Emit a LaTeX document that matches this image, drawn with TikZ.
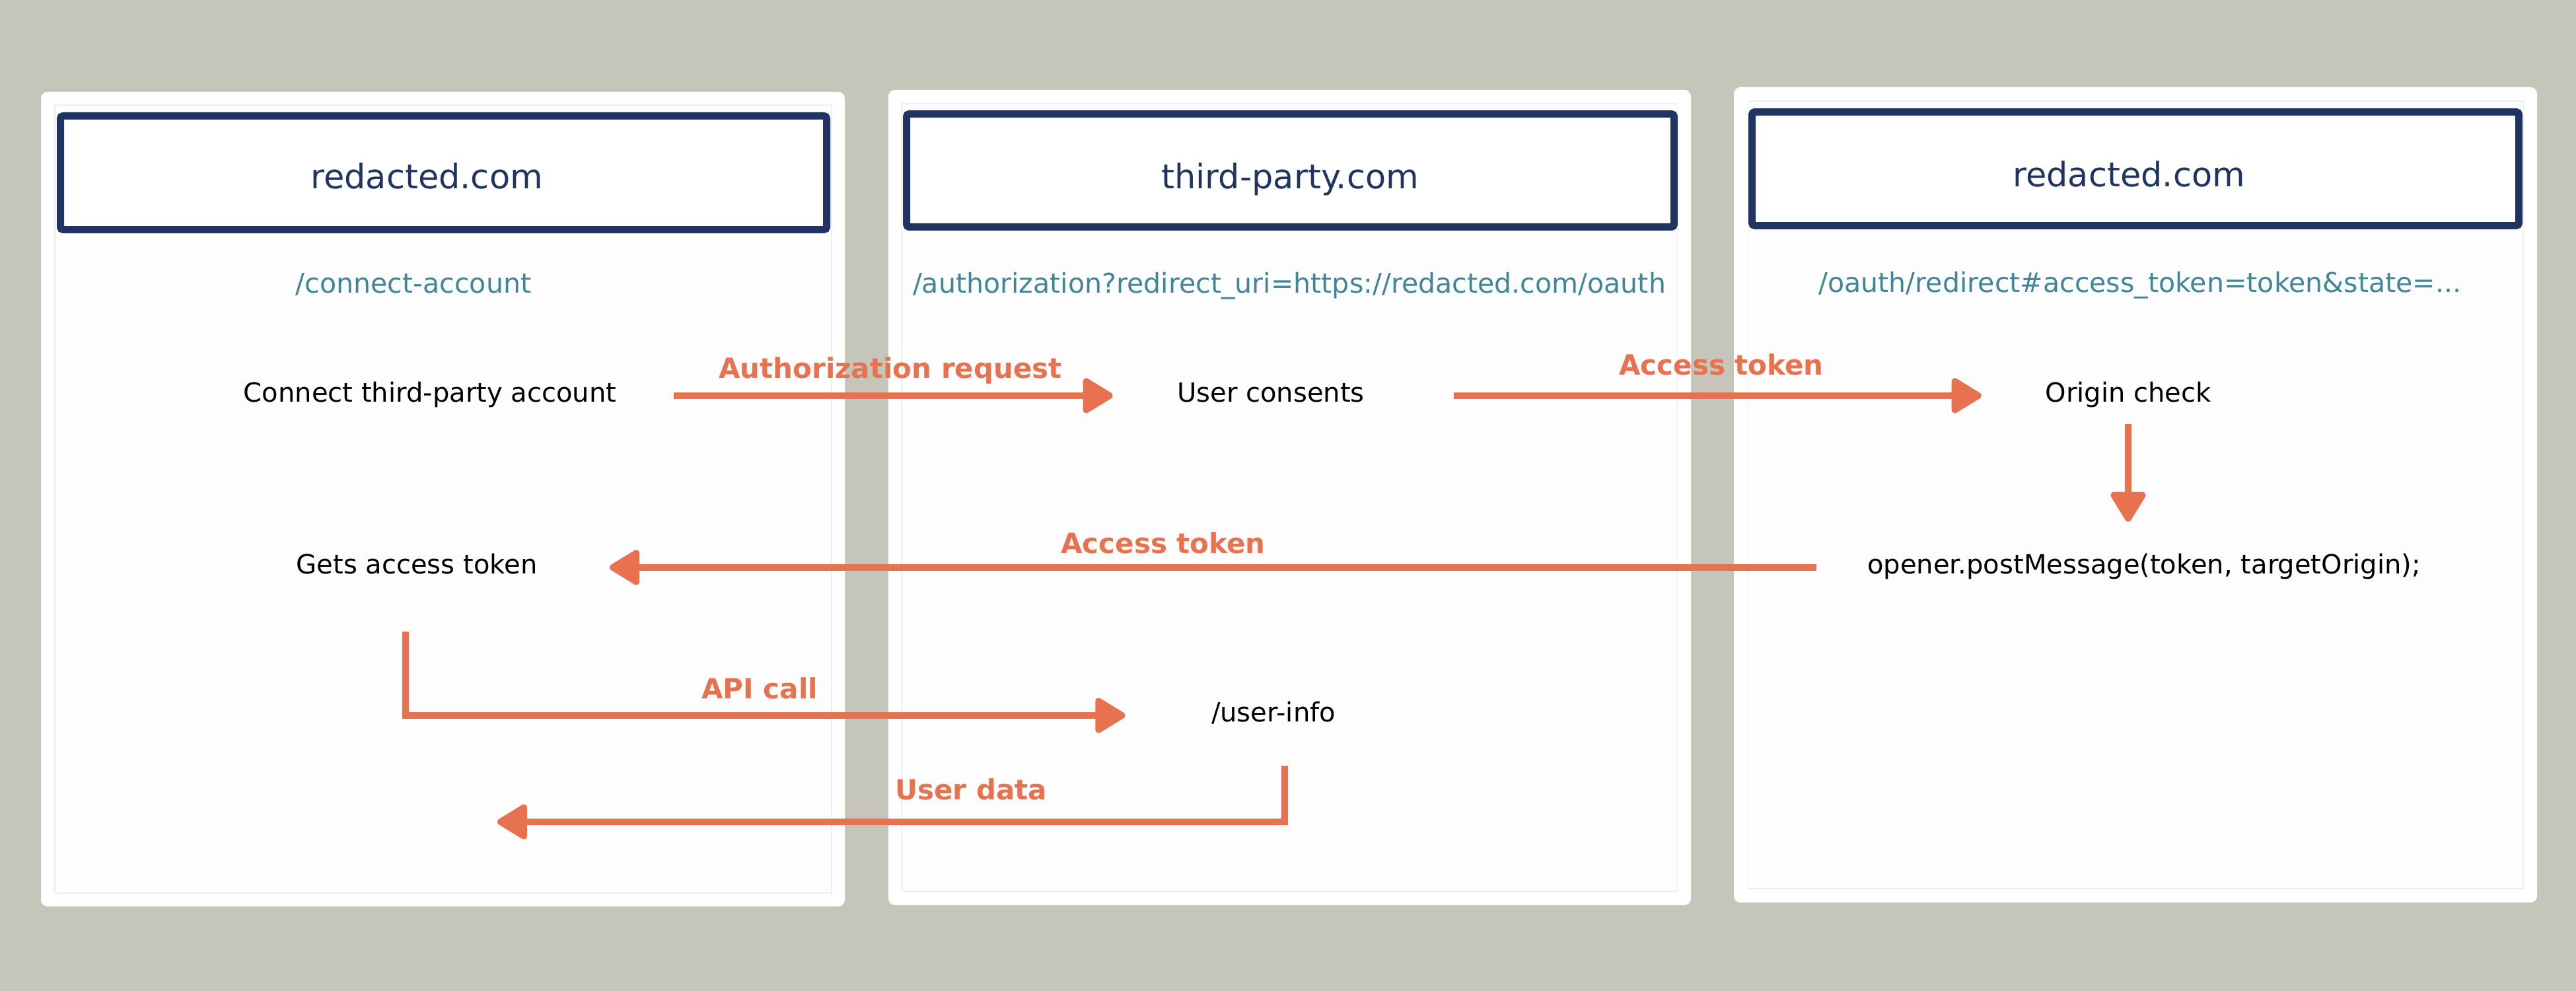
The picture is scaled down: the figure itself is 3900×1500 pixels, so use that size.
\documentclass[tikz,border=0pt]{standalone}
\usepackage{fontspec}
\setmainfont{DejaVu Sans}
\usetikzlibrary{arrows.meta, positioning, calc}
\definecolor{pagegray}{RGB}{197,197,185}
\definecolor{hostnavy}{RGB}{31,52,97}
\definecolor{pathteal}{RGB}{64,134,152}
\definecolor{flowor}{RGB}{232,114,79}
\definecolor{faintline}{RGB}{236,238,241}
\definecolor{panelwhite}{RGB}{253,253,254}
\tikzset{
    % Browser windows
    panel/.style={fill=white, rounded corners=1mm},
    innerframe/.style={draw=faintline, line width=0.3pt, fill=panelwhite},
    hostbox/.style={draw=hostnavy, line width=1.1mm, rounded corners=0.4mm, fill=white},
    % Texts
    host/.style={text=hostnavy, inner sep=0, anchor=base, font=\fontsize{14.5}{17}\selectfont},
    route/.style={text=pathteal, inner sep=0, anchor=base, font=\fontsize{11.7}{14}\selectfont},
    stepnode/.style={inner sep=0, anchor=base, text height=0.76em, text depth=0.24em, font=\fontsize{11.4}{14}\selectfont},
    msg/.style={text=flowor, inner sep=0, anchor=base, font=\bfseries\fontsize{11.95}{14}\selectfont},
    % Connections
    flow/.style={draw=flowor, line width=1mm, -{Triangle[length=5mm, width=5.8mm, round]}}
}
\begin{document}
\begin{tikzpicture}[x=0.1mm, y=-0.1mm]
        \useasboundingbox (0,0) rectangle (3900,1500);
        \fill[pagegray] (0,0) rectangle (3900,1500);

        % Browser panels
        \fill[panel] (62,139) rectangle (1279,1372);
        \fill[panel] (1345,136) rectangle (2560,1370);
        \fill[panel] (2625,132) rectangle (3841,1366);
        \draw[innerframe] (83,159) rectangle (1259,1352);
        \draw[innerframe] (1365,157) rectangle (2539,1349);
        \draw[innerframe] (2646,153) rectangle (3820,1345);

        % Host boxes
        \draw[hostbox] (91.5,175.5) rectangle (1251.5,347.5);
        \draw[hostbox] (1372.5,172.5) rectangle (2534.5,343.5);
        \draw[hostbox] (2652.5,169.5) rectangle (3813.5,341.5);
        \node[host] (hostA) at (646,285) {redacted.com};
        \node[host] (hostB) at (1953,285) {third-party.com};
        \node[host] (hostC) at (3223,283) {redacted.com};

        % Routes
        \node[route] (routeA) at (626,443) {/connect-account};
        \node[route] (routeB) at (1952,443) {/authorization?redirect\_uri=https://redacted.com/oauth};
        \node[route] (routeC) at (3240,442) {/oauth/redirect\#access\_token=token\&state=...};

        % Steps
        \node[stepnode] (connect) at (651,608) {Connect third-party account};
        \node[stepnode] (consent) at (1924,608) {User consents};
        \node[stepnode] (origin) at (3222,608) {Origin check};
        \node[stepnode] (post) at (3246,868) {opener.postMessage(token, targetOrigin);};
        \node[stepnode] (gets) at (631,868) {Gets access token};
        \node[stepnode] (userinfo) at (1928,1092) {/user-info};
        \coordinate (dataend) at (753,1244);

        % Connections
        \draw[flow] ($(connect.east)+(86,0)$) -- ($(consent.west)+(-97,0)$);
        \draw[flow] ($(consent.east)+(135,0)$) -- ($(origin.west)+(-96,0)$);
        \draw[flow] ($(origin.south)+(0,25)$) -- ($(origin.south |- post.north)+(0,-51)$);
        \draw[flow] ($(post.west)+(-77,0)$) -- ($(gets.east)+(109,0)$);
        \draw[flow] ($(gets.south)+(-17,79)$) |- ($(userinfo.west)+(-130,0)$);
        \draw[flow] ($(userinfo.south)+(17,58)$) |- (dataend);

        % Labels on connections
        \node[msg] (authreq) at (1348,572) {Authorization request};
        \node[msg] (tokenfwd) at (2606,567) {Access token};
        \node[msg] (tokenback) at (1761,837) {Access token};
        \node[msg] (apicall) at (1150,1057) {API call};
        \node[msg] (userdata) at (1470,1210) {User data};
\end{tikzpicture}
\end{document}
